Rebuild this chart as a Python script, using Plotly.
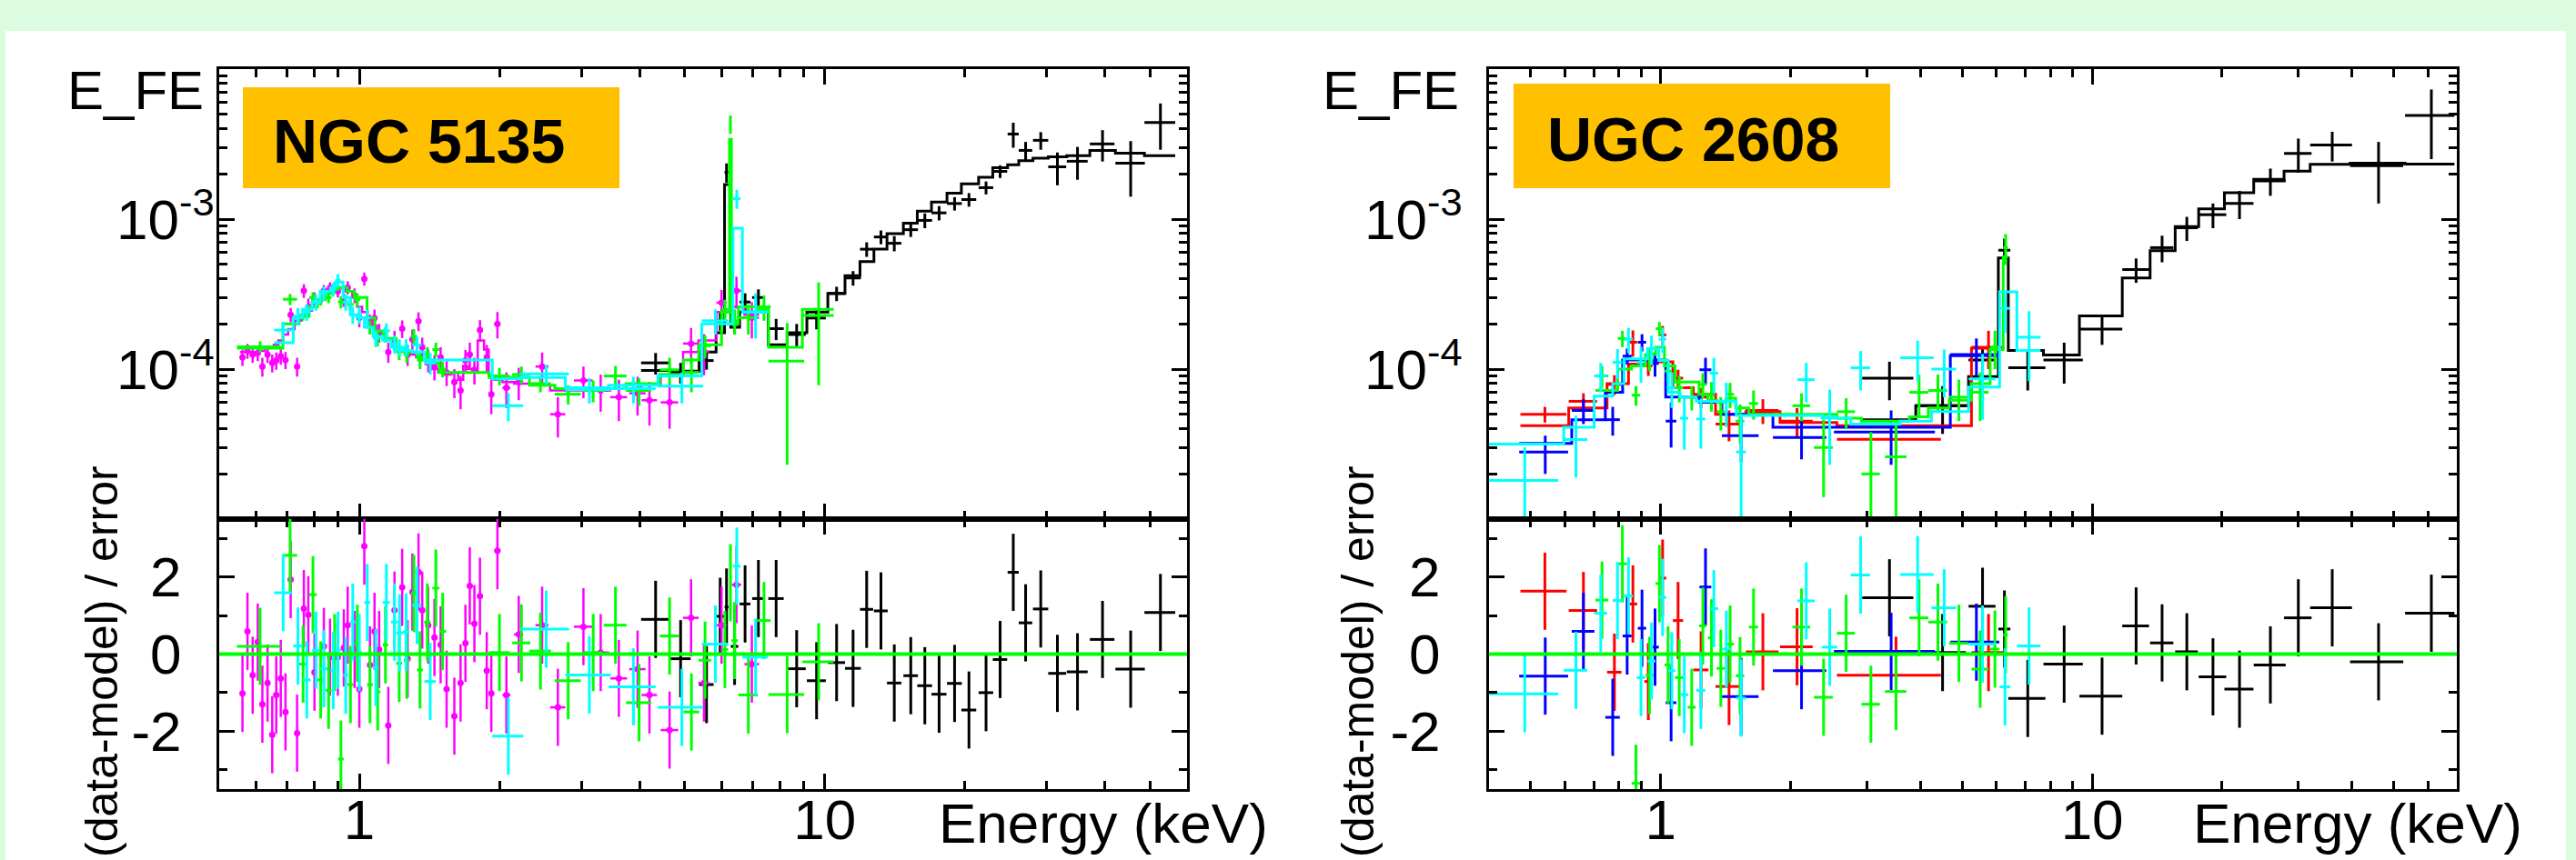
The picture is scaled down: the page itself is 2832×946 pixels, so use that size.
import numpy as np
import plotly.graph_objects as go

W, H = 2832, 946
FONT = "Liberation Sans, Arial, Helvetica, sans-serif"

# ======================= NGC 5135 (left panel) =======================
# fluxes / model / errors in units of 1e-4 ; energies in keV
n5_black_E = [4.33, 4.9, 5.57, 5.96, 6.15, 6.4, 6.74, 7.2, 7.86, 8.7, 9.6, 10.6, 11.5, 12.3, 13.2, 14.1,
              15.3, 16.4, 17.6, 19.0, 20.4, 22.2, 23.8, 25.4, 27.0, 29.1, 31.6, 34.9, 39.5, 45.4, 52.6]
n5_black_dE = [0.3, 0.25, 0.2, 0.12, 0.06, 0.12, 0.18, 0.22, 0.3, 0.4, 0.45, 0.45, 0.45, 0.4, 0.45, 0.5,
               0.55, 0.6, 0.65, 0.7, 0.75, 0.8, 0.85, 0.7, 0.9, 1.1, 1.4, 1.8, 2.4, 3.3, 4.0]
n5_black_F = [1.1, 0.95, 1.14, 2.1, 20.5, 2.0, 2.8, 3.0, 1.86, 1.7, 2.19, 3.19, 4.05, 6.3, 7.6, 6.9,
              8.5, 9.8, 11.0, 12.7, 13.5, 16.2, 20.8, 36.9, 28.7, 33.5, 22.3, 24.3, 31.7, 23.6, 44.0]
n5_black_Ferr = [0.18, 0.15, 0.15, 0.3, 3.0, 0.3, 0.4, 0.4, 0.3, 0.3, 0.35, 0.35, 0.45, 0.7, 0.8, 0.8,
                 0.9, 1.1, 1.2, 1.3, 1.4, 1.6, 2.0, 7.0, 4.0, 4.5, 5.5, 6.0, 7.5, 9.5, 15.0]
n5_black_M = [0.98, 0.97, 1.3, 1.75, 17.0, 1.9, 2.4, 2.4, 1.45, 1.75, 2.4, 3.2, 4.2, 5.2, 6.3, 8.0,
              9.4, 11.3, 13.0, 14.9, 17.2, 19.0, 22.0, 23.0, 24.5, 25.5, 26.0, 26.5, 28.7, 27.5, 26.5]
n5_black_R = [0.9, -0.12, -0.79, 0.98, 1.22, 0.2, 1.3, 1.44, 1.44, -0.38, -0.69, -0.22, -0.37, 1.16, 1.12, -0.75,
              -0.56, -0.82, -1.04, -0.76, -1.45, -1.0, -0.14, 2.12, 0.81, 1.17, -0.5, -0.46, 0.38, -0.39, 1.08]

n5_mag_E = [0.561, 0.575, 0.590, 0.605, 0.619, 0.635, 0.650, 0.663, 0.678, 0.694,
            0.712, 0.735, 0.760, 0.777, 0.801, 0.839, 0.865, 0.899, 0.926, 0.944,
            0.977, 1.000, 1.025, 1.054, 1.078, 1.103, 1.154, 1.190, 1.236, 1.270,
            1.300, 1.340, 1.365, 1.406, 1.450, 1.495, 1.540, 1.600, 1.650, 1.690,
            1.727, 1.767, 1.816, 1.878, 1.921, 1.980, 2.070, 2.200, 2.470, 2.670,
            3.030, 3.300, 3.610, 3.960, 4.200, 4.640, 5.160, 5.500, 6.000, 6.460, 6.970]
n5_mag_dE = [0.007, 0.007, 0.007, 0.007, 0.008, 0.008, 0.008, 0.008, 0.008, 0.008,
             0.009, 0.009, 0.009, 0.009, 0.01, 0.01, 0.01, 0.01, 0.01, 0.01,
             0.011, 0.011, 0.011, 0.012, 0.012, 0.012, 0.014, 0.014, 0.015, 0.015,
             0.016, 0.016, 0.016, 0.018, 0.018, 0.018, 0.02, 0.022, 0.02, 0.018,
             0.018, 0.018, 0.02, 0.025, 0.025, 0.03, 0.04, 0.05, 0.08, 0.1,
             0.14, 0.14, 0.15, 0.16, 0.16, 0.2, 0.2, 0.15, 0.15, 0.15, 0.25]
n5_mag_F = [1.20, 1.32, 1.25, 1.28, 1.04, 1.25, 1.10, 1.14, 1.22, 1.15,
            2.30, 1.04, 3.33, 2.60, 2.90, 3.33, 3.49, 3.30, 2.90, 3.50,
            3.10, 2.20, 4.00, 2.00, 2.19, 1.75, 1.30, 1.55, 1.86, 1.25,
            1.58, 2.09, 1.40, 1.15, 1.04, 1.20, 0.95, 0.82, 0.72, 1.14,
            1.25, 0.99, 1.82, 1.20, 0.68, 2.00, 0.75, 0.82, 1.04, 0.50,
            0.84, 0.72, 0.65, 0.69, 0.62, 0.60, 1.48, 1.31, 2.77, 3.33, 2.20]
n5_mag_Ferr = [0.15, 0.15, 0.15, 0.15, 0.15, 0.15, 0.15, 0.15, 0.15, 0.15,
               0.25, 0.15, 0.35, 0.35, 0.35, 0.3, 0.3, 0.3, 0.3, 0.35,
               0.35, 0.3, 0.4, 0.3, 0.3, 0.25, 0.2, 0.25, 0.25, 0.2,
               0.25, 0.3, 0.22, 0.2, 0.2, 0.2, 0.18, 0.18, 0.18, 0.2,
               0.25, 0.2, 0.3, 0.25, 0.18, 0.4, 0.2, 0.2, 0.25, 0.15,
               0.2, 0.2, 0.2, 0.2, 0.2, 0.2, 0.4, 0.4, 0.6, 0.8, 0.6]
n5_mag_M = [1.30, 1.30, 1.30, 1.30, 1.32, 1.38, 1.40, 1.45, 1.55, 1.70,
            1.85, 2.10, 2.30, 2.45, 2.80, 3.20, 3.40, 3.50, 3.45, 3.30,
            3.00, 2.60, 2.40, 2.10, 1.95, 1.75, 1.55, 1.40, 1.35, 1.30,
            1.25, 1.20, 1.15, 1.08, 1.00, 0.95, 0.92, 0.95, 0.85, 1.05,
            1.00, 0.95, 1.55, 1.35, 0.90, 0.85, 0.82, 0.80, 0.78, 0.72,
            0.72, 0.72, 0.74, 0.74, 0.78, 0.92, 1.30, 1.55, 2.40, 2.60, 2.30]
n5_mag_R = [-1.02, 0.59, -0.55, 0.31, -1.30, -0.75, -2.09, -1.06, -0.63, -1.50,
            1.93, -2.05, 1.18, 1.02, -0.47, 0.2, -0.08, -0.08, 0.16, 0.75,
            0.12, -0.91, 2.8, -0.28, 0.59, 0.12, -1.85, 1.14, 1.73, -0.12,
            1.61, 2.13, 1.14, 0.75, 0.43, 0.24, -0.91, -1.61, -0.75, 0.28,
            1.77, 0.79, 1.5, -0.43, -1.02, 2.68, -1.06, 0.51, 0.75, -1.38,
            0.71, 0.04, -0.63, -0.39, -1.06, -1.97, 0.94, -0.75, 0.75, 1.8, -0.26]

n5_green_E = [0.612, 0.710, 0.757, 0.795, 0.826, 0.859, 0.885, 0.913, 0.957, 0.990,
              1.054, 1.095, 1.138, 1.218, 1.264, 1.31, 1.35, 1.40, 1.46, 1.51,
              2.00, 2.23, 2.45, 2.81, 3.18, 3.55, 3.99, 4.64, 5.17, 5.53,
              6.10, 6.27, 6.40, 6.85, 7.40, 8.30, 9.70]
n5_green_dE = [0.066, 0.025, 0.015, 0.015, 0.013, 0.013, 0.013, 0.013, 0.015, 0.015,
               0.015, 0.015, 0.015, 0.018, 0.018, 0.02, 0.02, 0.022, 0.025, 0.025,
               0.1, 0.1, 0.13, 0.18, 0.15, 0.2, 0.25, 0.22, 0.2, 0.17,
               0.1, 0.03, 0.1, 0.33, 0.25, 0.73, 0.75]
n5_green_F = [1.41, 2.92, 2.30, 3.00, 2.90, 3.00, 3.50, 2.80, 2.70, 2.90,
              1.90, 1.60, 1.70, 1.30, 1.25, 1.65, 1.15, 1.25, 1.35, 1.00,
              0.90, 0.92, 0.80, 0.68, 0.72, 0.90, 0.72, 0.99, 0.95, 1.43,
              2.50, 43.0, 2.10, 2.20, 2.60, 1.13, 2.28]
n5_green_Ferr = [0.12, 0.25, 0.2, 0.25, 0.25, 0.25, 0.3, 0.26, 0.25, 0.3,
                 0.2, 0.18, 0.2, 0.15, 0.15, 0.2, 0.15, 0.15, 0.15, 0.12,
                 0.12, 0.12, 0.1, 0.1, 0.12, 0.15, 0.15, 0.2, 0.25, 0.25,
                 0.4, 6.0, 0.4, 0.5, 0.5, 0.9, 1.5]
n5_green_M = [1.38, 2.0, 2.25, 2.6, 2.9, 3.2, 3.4, 3.5, 3.3, 3.0,
              2.2, 1.8, 1.6, 1.35, 1.3, 1.3, 1.2, 1.15, 1.1, 0.95,
              0.88, 0.88, 0.78, 0.74, 0.72, 0.74, 0.80, 0.92, 1.15, 1.45,
              2.4, 34.0, 2.0, 2.6, 2.5, 1.4, 2.5]
n5_green_R = [0.2, 2.56, -0.26, 1.54, -0.67, -0.94, 0.04, -2.72, -0.79, 0.28,
              -0.79, -0.98, 0.24, -0.24, -0.16, 1.57, -0.41, 0.83, 1.71, 0.59,
              0.04, 0.29, 0.08, -0.69, 0.04, 0.75, -1.26, 0.47, -1.5, -0.16,
              0.12, 1.85, 0.35, -1.06, 0.87, -1.05, -0.2]

n5_cyan_E = [0.686, 0.738, 0.771, 0.807, 0.839, 0.879, 0.90, 0.935, 0.968, 1.0,
             1.04, 1.085, 1.143, 1.19, 1.22, 1.26, 1.33, 1.42, 2.09, 2.52,
             3.12, 3.88, 4.93, 5.82, 6.47, 7.1]
n5_cyan_dE = [0.03, 0.017, 0.015, 0.015, 0.015, 0.012, 0.012, 0.012, 0.012, 0.012,
              0.015, 0.015, 0.02, 0.02, 0.02, 0.02, 0.03, 0.04, 0.16, 0.3,
              0.35, 0.45, 0.55, 0.38, 0.12, 0.45]
n5_cyan_F = [1.82, 2.25, 2.4, 2.8, 3.2, 3.4, 3.9, 2.8, 2.3, 2.3,
             2.2, 1.6, 1.8, 1.47, 1.4, 1.4, 1.45, 1.1, 0.57, 0.93,
             0.73, 0.74, 0.77, 2.1, 13.7, 2.4]
n5_cyan_Ferr = [0.25, 0.3, 0.3, 0.35, 0.35, 0.35, 0.4, 0.35, 0.3, 0.3,
                0.3, 0.2, 0.22, 0.2, 0.18, 0.18, 0.2, 0.18, 0.12, 0.14,
                0.14, 0.15, 0.18, 0.4, 2.0, 0.8]
n5_cyan_M = [1.5, 2.2, 2.5, 2.8, 3.3, 3.5, 3.8, 3.0, 2.3, 2.2,
             1.9, 1.65, 1.55, 1.4, 1.35, 1.33, 1.3, 1.15, 0.86, 0.88,
             0.75, 0.78, 0.90, 2.0, 8.7, 2.4]
n5_cyan_R = [1.59, 0.21, -0.67, 0.1, -0.38, -0.43, 0.1, -0.55, 0.83, 0.04,
             1.34, -0.35, 1.34, 0.83, 0.55, 0.57, 1.26, -0.71, -2.13, 0.65,
             -0.54, -0.85, -1.38, 0.26, 2.28, -0.08]

# ======================= UGC 2608 (right panel) =======================
u2_black_E = [3.39, 4.5, 5.57, 6.26, 7.09, 8.61, 10.54, 12.64, 14.52, 16.57, 19.05, 21.95, 25.88, 30.04, 36.0, 46.1, 61.1]
u2_black_dE = [0.46, 0.6, 0.4, 0.2, 0.7, 0.9, 1.2, 0.9, 0.9, 1.0, 1.4, 1.7, 2.2, 2.2, 4.0, 6.5, 8.0]
u2_black_F = [0.87, 0.57, 1.15, 6.2, 1.02, 1.15, 1.85, 4.61, 6.45, 8.75, 10.7, 12.7, 18.0, 27.4, 31.2, 22.7, 49.1]
u2_black_Ferr = [0.25, 0.2, 0.25, 1.2, 0.3, 0.35, 0.4, 0.85, 1.3, 1.6, 2.0, 2.7, 3.7, 7.0, 7.0, 10.0, 24.0]
u2_black_M = [0.46, 0.57, 0.89, 5.5, 1.33, 1.24, 2.26, 4.05, 6.15, 8.9, 11.7, 15.0, 18.4, 20.9, 23.2, 23.6, 23.3]
u2_black_R = [1.46, 0.04, 1.24, 0.65, -1.15, -0.26, -1.09, 0.73, 0.29, 0.06, -0.59, -0.91, -0.28, 0.94, 1.2, -0.2, 1.06]

u2_red_E = [0.539, 0.662, 0.781, 0.862, 0.936, 1.01, 1.097, 1.24, 1.44, 1.725, 2.07, 3.51, 5.75]
u2_red_dE = [0.066, 0.05, 0.03, 0.02, 0.02, 0.02, 0.03, 0.05, 0.1, 0.15, 0.18, 0.95, 0.5]
u2_red_F = [0.50, 0.61, 0.79, 1.51, 1.05, 1.69, 0.87, 0.65, 0.43, 0.53, 0.45, 0.34, 1.40]
u2_red_Ferr = [0.06, 0.08, 0.12, 0.3, 0.15, 0.25, 0.12, 0.1, 0.1, 0.1, 0.1, 0.1, 0.4]
u2_red_M = [0.42, 0.55, 0.80, 1.08, 1.12, 1.12, 0.75, 0.68, 0.50, 0.52, 0.44, 0.42, 1.38]
u2_red_R = [1.63, 1.13, -0.47, 1.3, -0.71, 1.97, 0.87, -0.41, -0.84, 0.06, 0.19, -0.55, 0.04]

u2_blue_E = [0.54, 0.662, 0.774, 0.836, 0.905, 0.97, 1.057, 1.27, 1.536, 2.12, 3.42, 5.39]
u2_blue_dE = [0.07, 0.04, 0.03, 0.02, 0.02, 0.02, 0.03, 0.04, 0.15, 0.3, 0.9, 0.7]
u2_blue_F = [0.28, 0.53, 0.46, 1.22, 1.51, 1.09, 0.45, 0.99, 0.36, 0.35, 0.38, 1.25]
u2_blue_Ferr = [0.08, 0.1, 0.1, 0.15, 0.2, 0.2, 0.15, 0.2, 0.12, 0.1, 0.15, 0.35]
u2_blue_M = [0.32, 0.46, 0.70, 1.15, 1.15, 1.15, 0.65, 0.60, 0.50, 0.41, 0.41, 1.23]
u2_blue_R = [-0.57, 0.59, -1.64, 0.47, 0.67, 0.18, -1.26, 1.74, -1.1, -0.43, 0.07, 0.31]

u2_green_E = [0.731, 0.815, 0.876, 0.942, 0.993, 1.04, 1.104, 1.18, 1.252, 1.311, 1.378, 1.448, 1.527,
              1.641, 2.12, 2.385, 2.69, 3.07, 3.51, 3.97, 4.39, 4.91, 5.5, 5.95, 6.3]
u2_green_dE = [0.025, 0.02, 0.02, 0.02, 0.02, 0.02, 0.025, 0.025, 0.025, 0.025, 0.03, 0.03, 0.035,
               0.04, 0.1, 0.12, 0.13, 0.15, 0.2, 0.2, 0.22, 0.25, 0.25, 0.15, 0.08]
u2_green_F = [0.90, 1.60, 0.67, 1.17, 1.86, 0.97, 0.75, 0.65, 0.79, 0.67, 0.52, 0.68, 0.45,
              0.59, 0.57, 0.30, 0.52, 0.20, 0.26, 0.70, 0.72, 0.65, 0.70, 1.40, 6.45]
u2_green_Ferr = [0.15, 0.2, 0.1, 0.2, 0.2, 0.15, 0.15, 0.12, 0.15, 0.15, 0.13, 0.13, 0.13,
                 0.13, 0.12, 0.16, 0.12, 0.18, 0.18, 0.22, 0.2, 0.2, 0.25, 0.4, 1.5]
u2_green_M = [0.72, 1.0, 1.05, 1.25, 1.4, 1.05, 0.82, 0.82, 0.68, 0.62, 0.60, 0.64, 0.55,
              0.50, 0.50, 0.50, 0.47, 0.45, 0.45, 0.48, 0.55, 0.62, 0.80, 1.35, 5.6]
u2_green_R = [1.4, 2.34, -3.35, -0.55, 1.83, -0.28, -0.61, -1.38, 0.73, 0.42, -0.37, 0.26, -0.56,
              0.7, 0.7, -1.12, 0.54, -1.3, -0.97, 0.94, 0.83, 0.28, -0.39, 0.13, 0.5]

u2_cyan_E = [0.484, 0.636, 0.726, 0.794, 0.842, 0.90, 0.952, 1.01, 1.061, 1.134, 1.239, 1.328, 1.419,
             1.536, 2.174, 2.464, 2.906, 3.94, 4.54, 5.57, 6.28, 7.14]
u2_cyan_dE = [0.095, 0.04, 0.025, 0.02, 0.02, 0.02, 0.02, 0.02, 0.02, 0.025, 0.03, 0.03, 0.035,
              0.04, 0.1, 0.1, 0.15, 0.35, 0.3, 0.4, 0.18, 0.45]
u2_cyan_F = [0.181, 0.339, 0.90, 1.11, 1.58, 1.11, 1.37, 1.58, 0.75, 0.47, 0.465, 0.94, 0.61,
             0.28, 0.85, 0.48, 1.02, 1.19, 1.0, 0.86, 2.54, 1.63]
u2_cyan_Ferr = [0.12, 0.15, 0.2, 0.25, 0.3, 0.3, 0.3, 0.3, 0.2, 0.18, 0.17, 0.25, 0.2,
                0.2, 0.25, 0.25, 0.3, 0.36, 0.35, 0.4, 0.8, 0.8]
u2_cyan_M = [0.316, 0.41, 0.66, 0.80, 1.17, 1.17, 1.37, 1.14, 0.70, 0.65, 0.61, 0.61, 0.61,
             0.49, 0.49, 0.47, 0.43, 0.45, 0.52, 0.76, 3.28, 1.33]
u2_cyan_R = [-1.03, -0.42, 1.06, 1.39, 1.51, -0.61, -0.18, 1.47, -0.43, -1.05, -0.94, 1.18, 0.13,
             -1.14, 1.38, 0.18, 2.05, 2.06, 1.2, 0.26, -0.85, 0.21]

# ---- text ----
titles = ["NGC 5135", "UGC 2608"]
ylab_top = "E_FE"
ylab_res = "(data-model) / error"
xlab = "Energy (keV)"
xtick_vals = [1, 10]
xtick_text = ["1", "10"]
ytop_vals = [1e-4, 1e-3]
ytop_text = ["10<sup>-4</sup>", "10<sup>-3</sup>"]
yres_vals = [-2, 0, 2]
yres_text = ["-2", "0", "2"]

COL = dict(black="#000000", magenta="#ff00ff", green="#00ff00", cyan="#00ffff",
           red="#ff0000", blue="#0000ff")
SCALE = 1e-4


def px(x):
    return x / W


def py(y):
    return 1 - y / H


fig = go.Figure()


def add_series(E, dE, F, Ferr, M, R, color, xt, yt, xr, yr, lw=3, dot=False):
    E = np.asarray(E, float)
    dE = np.asarray(dE, float)
    F = np.asarray(F, float) * SCALE
    Ferr = np.asarray(Ferr, float) * SCALE
    M = np.asarray(M, float) * SCALE
    R = np.asarray(R, float)
    assert len(E) == len(dE) == len(F) == len(Ferr) == len(M) == len(R), color
    xs = np.append(E - dE, E[-1] + dE[-1])
    ys = np.append(M, M[-1])
    fig.add_trace(go.Scatter(x=xs, y=ys, mode="lines", xaxis=xt, yaxis=yt,
                             line=dict(color=color, width=lw, shape="hv"),
                             hoverinfo="skip", showlegend=False))
    mk = dict(color=color, size=7 if dot else 1, line=dict(width=0))
    fig.add_trace(go.Scatter(x=E, y=F, mode="markers", xaxis=xt, yaxis=yt, marker=mk,
                             error_x=dict(type="data", array=dE, color=color, thickness=lw, width=0),
                             error_y=dict(type="data", array=Ferr, color=color, thickness=lw, width=0),
                             showlegend=False))
    fig.add_trace(go.Scatter(x=E, y=R, mode="markers", xaxis=xr, yaxis=yr, marker=mk,
                             error_x=dict(type="data", array=dE, color=color, thickness=lw, width=0),
                             error_y=dict(type="constant", value=1, color=color, thickness=lw, width=0),
                             showlegend=False))


# left panel: top = x/y, residual = x2/y2
add_series(n5_black_E, n5_black_dE, n5_black_F, n5_black_Ferr, n5_black_M, n5_black_R, COL["black"], "x", "y", "x2", "y2")
add_series(n5_mag_E, n5_mag_dE, n5_mag_F, n5_mag_Ferr, n5_mag_M, n5_mag_R, COL["magenta"], "x", "y", "x2", "y2", lw=2.5, dot=True)
add_series(n5_green_E, n5_green_dE, n5_green_F, n5_green_Ferr, n5_green_M, n5_green_R, COL["green"], "x", "y", "x2", "y2")
add_series(n5_cyan_E, n5_cyan_dE, n5_cyan_F, n5_cyan_Ferr, n5_cyan_M, n5_cyan_R, COL["cyan"], "x", "y", "x2", "y2")
# right panel: top = x3/y3, residual = x4/y4
add_series(u2_black_E, u2_black_dE, u2_black_F, u2_black_Ferr, u2_black_M, u2_black_R, COL["black"], "x3", "y3", "x4", "y4")
add_series(u2_red_E, u2_red_dE, u2_red_F, u2_red_Ferr, u2_red_M, u2_red_R, COL["red"], "x3", "y3", "x4", "y4")
add_series(u2_blue_E, u2_blue_dE, u2_blue_F, u2_blue_Ferr, u2_blue_M, u2_blue_R, COL["blue"], "x3", "y3", "x4", "y4")
add_series(u2_green_E, u2_green_dE, u2_green_F, u2_green_Ferr, u2_green_M, u2_green_R, COL["green"], "x3", "y3", "x4", "y4")
add_series(u2_cyan_E, u2_cyan_dE, u2_cyan_F, u2_cyan_Ferr, u2_cyan_M, u2_cyan_R, COL["cyan"], "x3", "y3", "x4", "y4")

TICKFONT = dict(family=FONT, size=62, color="black")
common = dict(showline=True, linecolor="black", linewidth=3, mirror="allticks",
              ticks="inside", ticklen=17, tickwidth=3, tickcolor="black",
              showgrid=False, zeroline=False, tickfont=TICKFONT, automargin=False)

XL = [241, 1305]
XR = [1637, 2701]
YT = [76, 571]
YB = [571, 868]


def xax(dom, rng, anchor, labels, standoff=-22):
    d = dict(common)
    d.update(type="log", domain=[px(dom[0]), px(dom[1])], range=[np.log10(rng[0]), np.log10(rng[1])],
             anchor=anchor, tickmode="array", tickvals=xtick_vals, ticktext=xtick_text,
             showticklabels=labels, ticklabelstandoff=standoff,
             minor=dict(ticks="inside", ticklen=9, tickwidth=2.5, tickcolor="black", dtick="D1", showgrid=False))
    return d


def ytop(dom, anchor, standoff):
    d = dict(common)
    d.update(type="log", domain=[py(dom[1]), py(dom[0])], range=[-5, -2], anchor=anchor,
             tickmode="array", tickvals=ytop_vals, ticktext=ytop_text, ticklabelstandoff=standoff,
             minor=dict(ticks="inside", ticklen=9, tickwidth=2.5, tickcolor="black", dtick="D1", showgrid=False))
    return d


def yres(dom, anchor, standoff):
    d = dict(common)
    d.update(type="linear", domain=[py(dom[1]), py(dom[0])], range=[-3.5, 3.5], anchor=anchor,
             tickmode="array", tickvals=yres_vals, ticktext=yres_text, ticklabelstandoff=standoff,
             minor=dict(ticks="inside", ticklen=9, tickwidth=2.5, tickcolor="black", dtick=1, tick0=0, showgrid=False))
    return d


fig.update_layout(
    width=W, height=H, autosize=False,
    margin=dict(l=0, r=0, t=0, b=0, pad=0, autoexpand=False),
    paper_bgcolor="#dcfce0", plot_bgcolor="#ffffff",
    showlegend=False,
    xaxis=xax(XL, [0.5, 60], "y", False),
    yaxis=ytop(YT, "x", -10),
    xaxis2=xax(XL, [0.5, 60], "y2", True),
    yaxis2=yres(YB, "x2", 26),
    xaxis3=xax(XR, [0.4, 70], "y3", False),
    yaxis3=ytop(YT, "x3", 14),
    xaxis4=xax(XR, [0.4, 70], "y4", True),
    yaxis4=yres(YB, "x4", 38),
)

shapes = [
    dict(type="rect", xref="paper", yref="paper", x0=px(6), x1=px(2821), y0=-0.01, y1=py(34),
         fillcolor="#ffffff", line=dict(width=0), layer="below"),
    dict(type="rect", xref="paper", yref="paper", x0=px(267), x1=px(681), y0=py(207), y1=py(96),
         fillcolor="#ffc000", line=dict(width=0), layer="above"),
    dict(type="rect", xref="paper", yref="paper", x0=px(1664), x1=px(2078), y0=py(207), y1=py(92),
         fillcolor="#ffc000", line=dict(width=0), layer="above"),
    dict(type="line", xref="x2 domain", yref="y2", x0=0, x1=1, y0=0, y1=0,
         line=dict(color=COL["green"], width=4), layer="above"),
    dict(type="line", xref="x4 domain", yref="y4", x0=0, x1=1, y0=0, y1=0,
         line=dict(color=COL["green"], width=4), layer="above"),
]
fig.update_layout(shapes=shapes)

LAB = dict(family=FONT, size=60, color="black")
ann = []
for x0, title, ty in [(298, titles[0], 155), (1699, titles[1], 153)]:
    ann.append(dict(x=px(x0), y=py(ty), xref="paper", yref="paper", text="<b>" + title + "</b>",
                    showarrow=False, xanchor="left", yanchor="middle",
                    font=dict(family=FONT, size=68, color="black")))
for x0 in [72, 1452]:
    ann.append(dict(x=px(x0), y=py(100), xref="paper", yref="paper", text=ylab_top,
                    showarrow=False, xanchor="left", yanchor="middle", font=LAB))
for xc in [112, 1493]:
    ann.append(dict(x=px(xc), y=py(728), xref="paper", yref="paper", text=ylab_res, textangle=-90,
                    showarrow=False, xanchor="center", yanchor="middle",
                    font=dict(family=FONT, size=50, color="black")))
for x0 in [1030, 2409]:
    ann.append(dict(x=px(x0), y=py(905), xref="paper", yref="paper", text=xlab,
                    showarrow=False, xanchor="left", yanchor="middle",
                    font=dict(family=FONT, size=62, color="black")))
fig.update_layout(annotations=ann)

fig.write_html("out.html")
